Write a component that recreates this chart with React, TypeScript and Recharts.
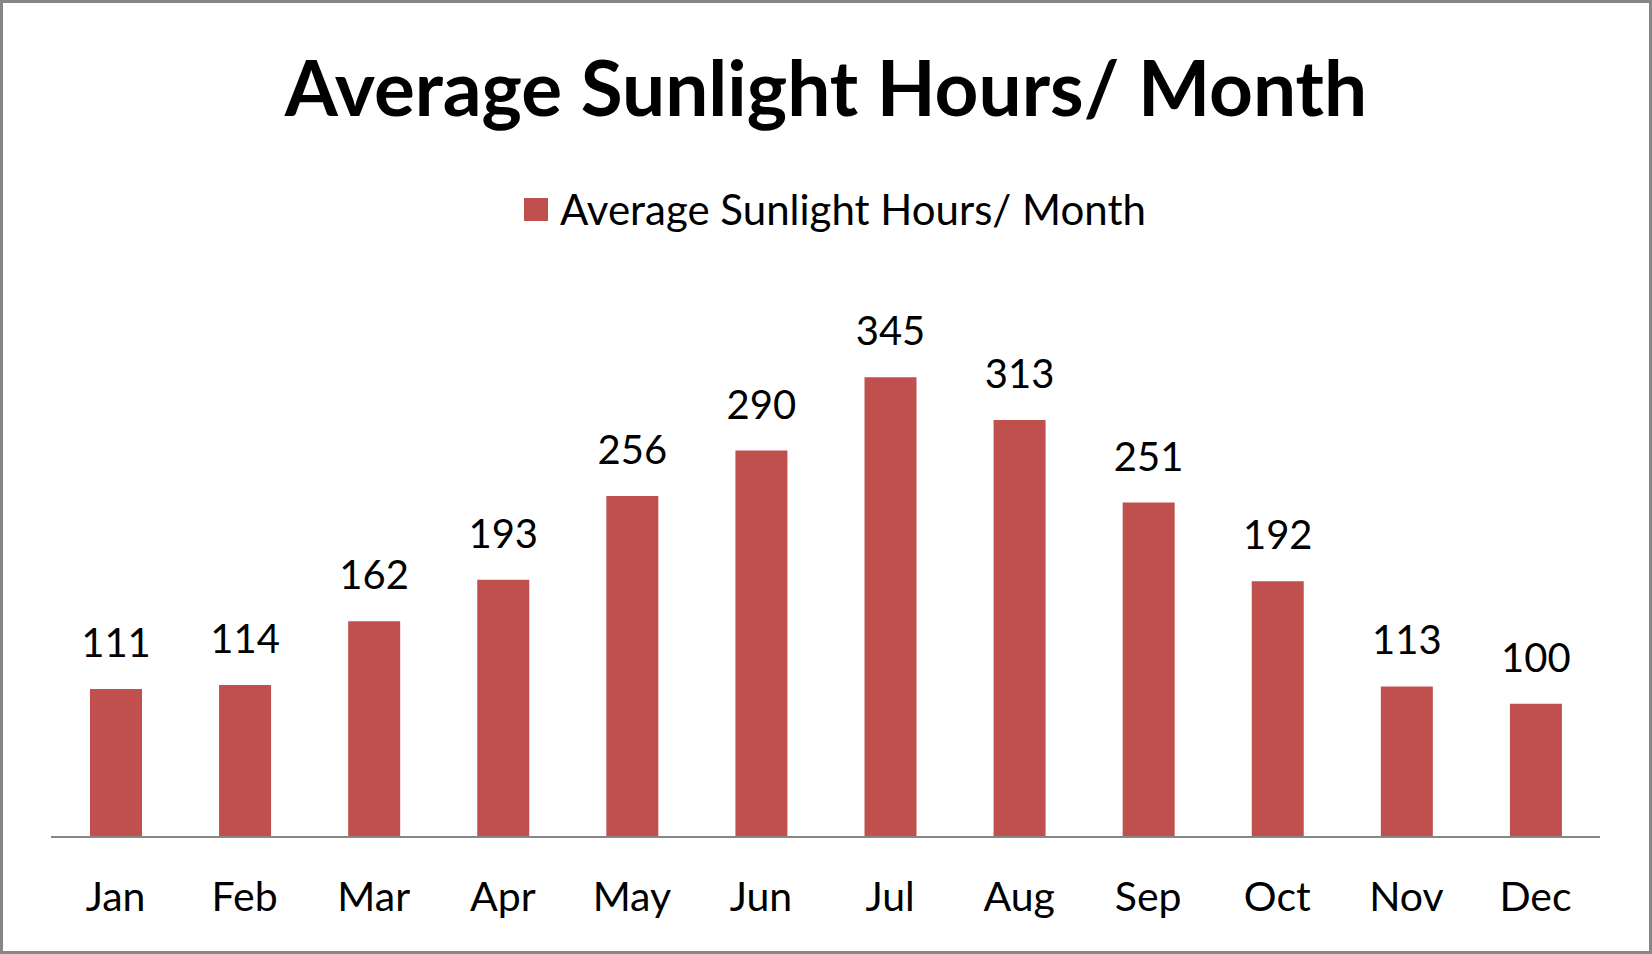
import { Bar, BarChart, LabelList, Legend, XAxis, YAxis } from "recharts";

const months = ["Jan", "Feb", "Mar", "Apr", "May", "Jun", "Jul", "Aug", "Sep", "Oct", "Nov", "Dec"];
const sunlightHours = [111, 114, 162, 193, 256, 290, 345, 313, 251, 192, 113, 100];
const seriesName = "Average Sunlight Hours/ Month";

const data = months.map((month, i) => ({ month, hours: sunlightHours[i] }));

const FONT = "Lato, 'Open Sans', sans-serif";
const BAR_COLOR = "#C0504D";

function LegendContent(props: any) {
  const items = props.payload || [];
  return (
    <div style={{ display: "flex", justifyContent: "center", alignItems: "center" }}>
      {items.map((item: any) => (
        <div key={item.value} style={{ display: "flex", alignItems: "center" }}>
          <span
            style={{ width: 24, height: 23, background: item.color, display: "inline-block", marginRight: 12 }}
          />
          <span style={{ fontSize: 42, color: "#000", fontFamily: FONT }}>{item.value}</span>
        </div>
      ))}
    </div>
  );
}

export default function App() {
  return (
    <div
      style={{
        position: "absolute",
        left: 0,
        top: 0,
        width: 1652,
        height: 954,
        border: "3px solid #868686",
        boxSizing: "border-box",
        background: "#fff",
        fontFamily: FONT,
      }}
    >
      <div
        style={{
          position: "absolute",
          left: 0,
          right: 0,
          top: 38,
          textAlign: "center",
          fontSize: 76.5,
          fontWeight: 700,
          lineHeight: "90px",
          color: "#000",
        }}
      >
        {seriesName}
      </div>
      <div style={{ position: "absolute", left: -3, top: -3 }}>
        <BarChart
          width={1652}
          height={954}
          data={data}
          margin={{ top: 304, right: 52, bottom: 0, left: 51 }}
          style={{ fontFamily: FONT }}
        >
          <XAxis
            dataKey="month"
            height={117}
            axisLine={{ stroke: "#868686", strokeWidth: 2 }}
            tickLine={false}
            tickMargin={39}
            tick={{ fill: "#000", fontSize: 41 }}
            interval={0}
          />
          <YAxis hide domain={[0, 400]} />
          <Legend
            verticalAlign="middle"
            align="center"
            layout="horizontal"
            wrapperStyle={{ top: 184, left: 9, width: 1652 }}
            content={LegendContent}
          />
          <Bar dataKey="hours" name={seriesName} fill={BAR_COLOR} barSize={52} isAnimationActive={false}>
            <LabelList dataKey="hours" position="top" offset={32} fill="#000" fontSize={40} />
          </Bar>
        </BarChart>
      </div>
    </div>
  );
}
